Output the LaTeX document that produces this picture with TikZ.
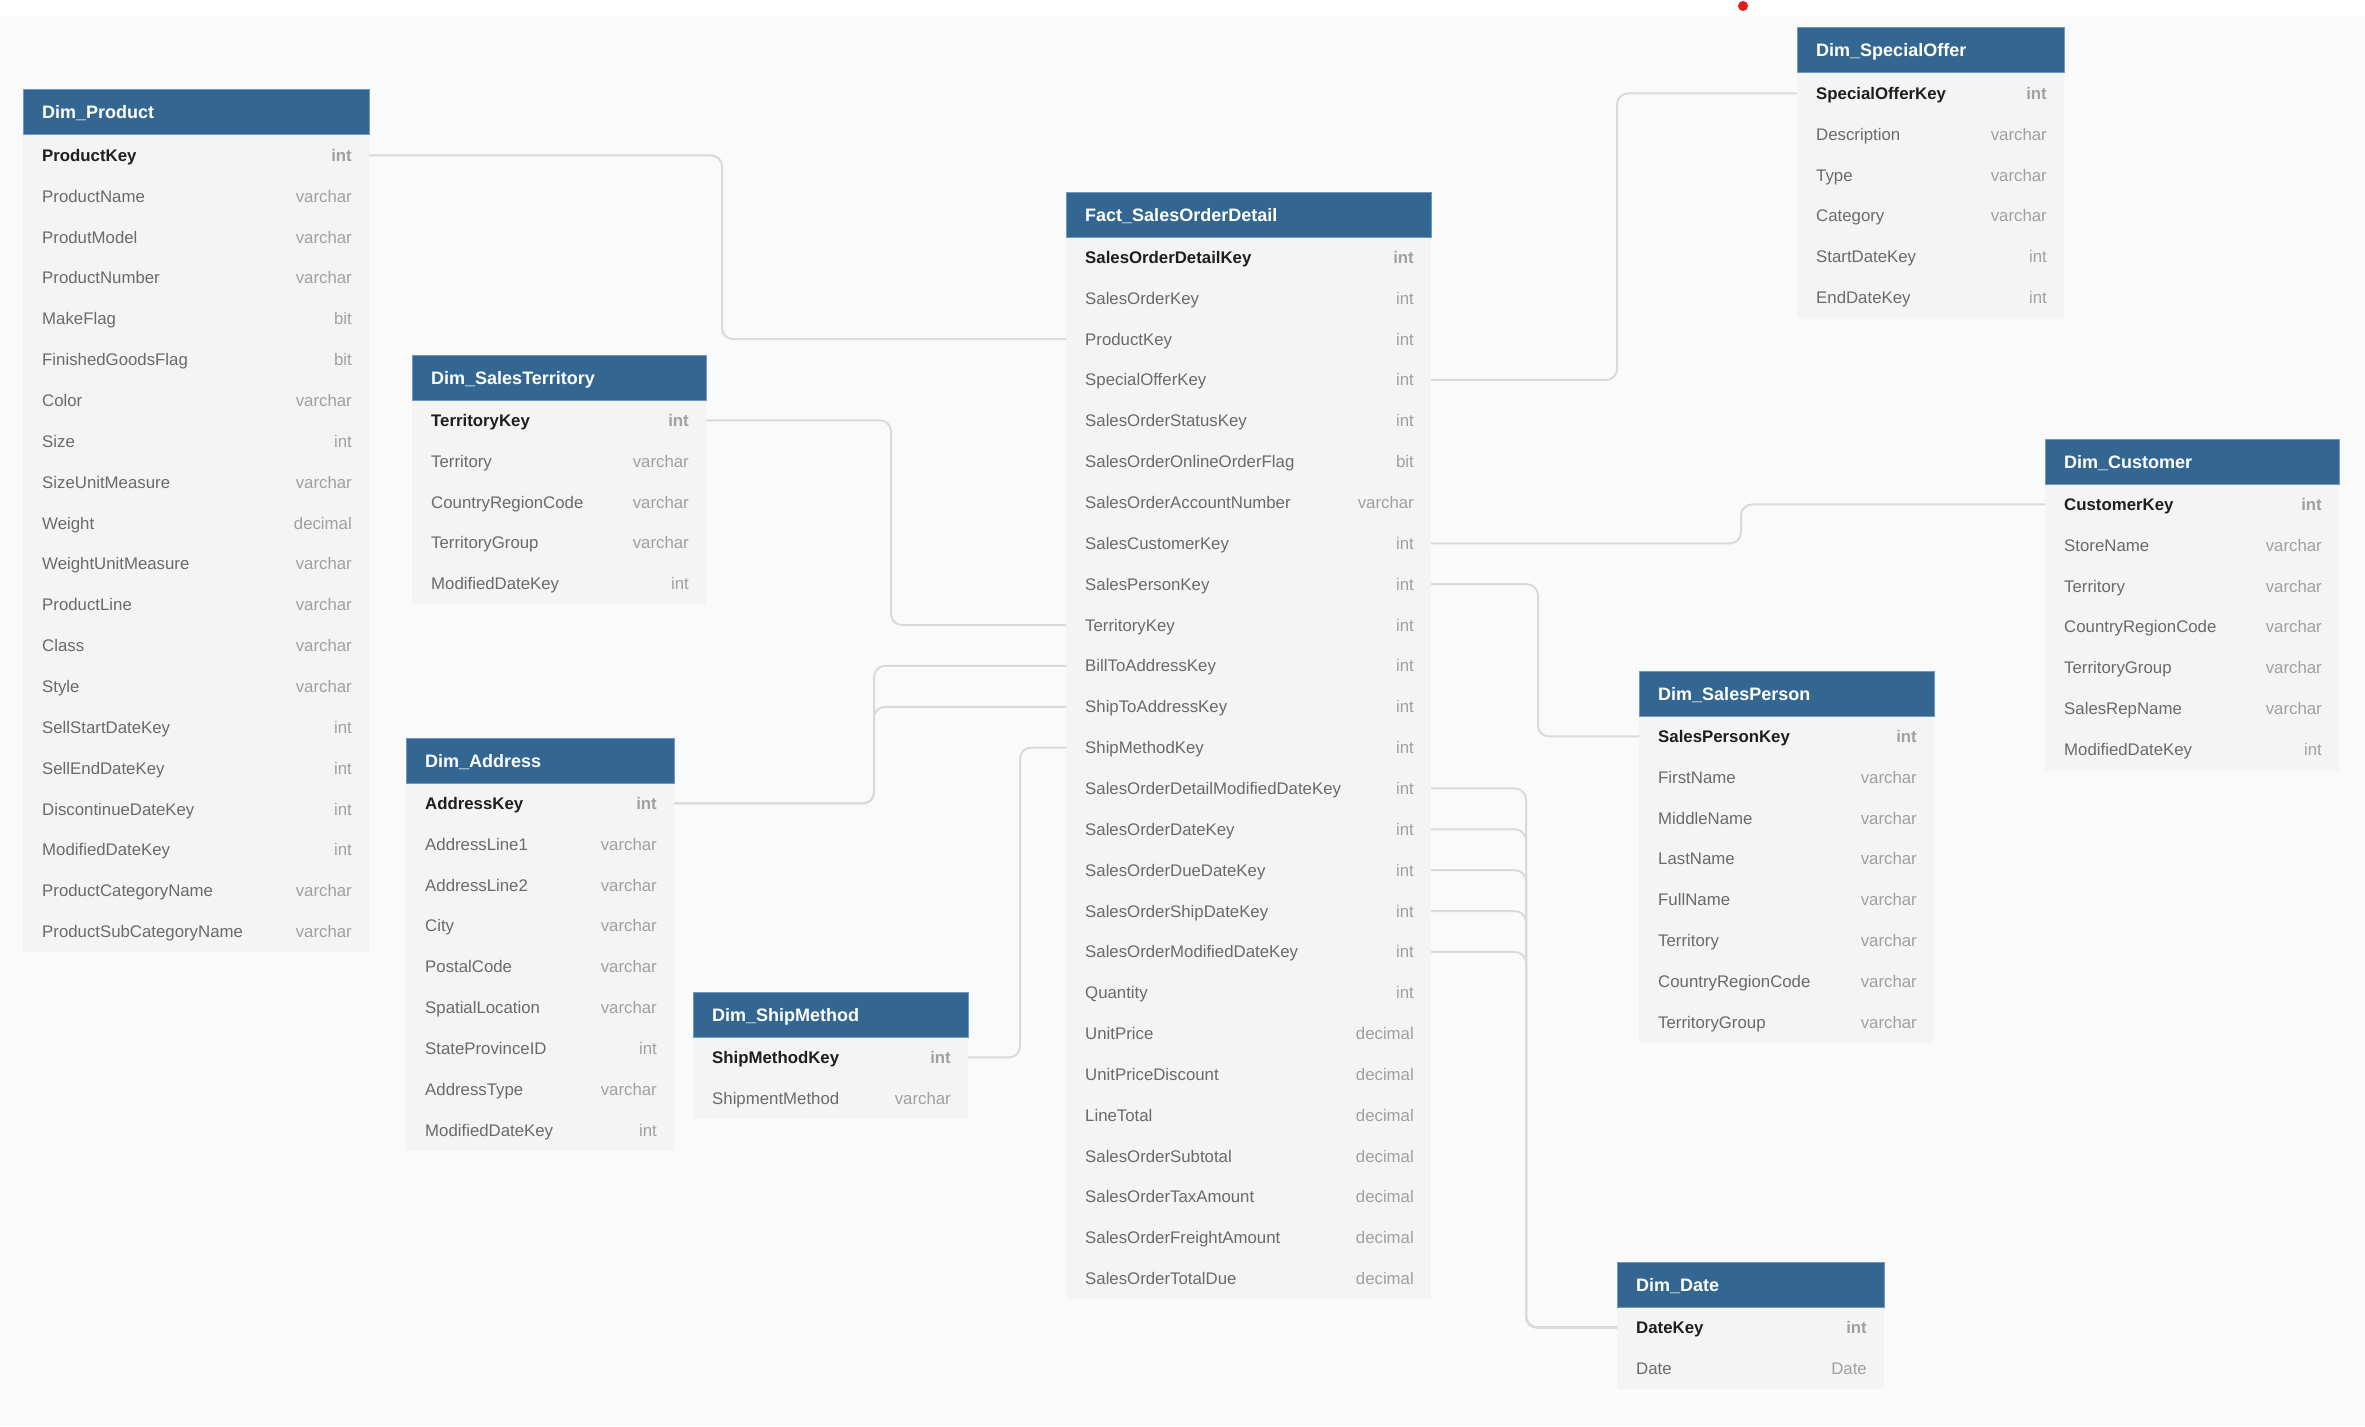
\documentclass[tikz,border=0pt]{standalone}
\usepackage{fontspec}
\setmainfont{Liberation Sans}
\definecolor{hdrblue}{HTML}{336791}
\definecolor{hdrline}{HTML}{6F98BD}
\definecolor{bodycol}{HTML}{F4F4F4}
\definecolor{canvascol}{HTML}{FAFAFA}
\definecolor{keycol}{HTML}{1E1E1E}
\definecolor{namecol}{HTML}{6A6A6A}
\definecolor{typecol}{HTML}{A0A0A0}
\definecolor{conncol}{HTML}{DADADA}
\definecolor{dotred}{HTML}{E31B1B}
\tikzset{
  hdr/.style={fill=hdrblue, draw=hdrline, line width=1pt, inner sep=0pt, outer sep=0pt, minimum height=45pt},
  hdrtext/.style={inner sep=0pt, text=white, font=\fontsize{18}{21}\selectfont\bfseries},
  rowbox/.style={draw=none, inner sep=0pt, outer sep=0pt, minimum height=40.85pt},
  nametext/.style={inner sep=0pt, text=namecol, font=\fontsize{16.8}{20}\selectfont},
  typetext/.style={inner sep=0pt, text=typecol, font=\fontsize{16.8}{20}\selectfont},
  conn/.style={draw=conncol, line width=2pt, rounded corners=11pt},
}
% #1 id, #2 x, #3 y, #4 width, #5 title, #6 rows, #7 number of rows
\newcommand{\erdtable}[7]{%
  \fill[bodycol] (#2,{#3+45}) rectangle ({#2+#4},{#3+45+#7*40.85});
  \foreach \fname/\ftype [count=\ri from 0] in {#6} {
    \node[rowbox, minimum width=#4pt, anchor=north west] (#1-\ri) at ({#2},{#3+45+\ri*40.85}) {};
    \node[nametext, anchor=base west] (#1-\ri-n) at ({#2+19},{#3+45+(\ri+0.5)*40.85+6}) {\ifnum\ri=0 \bfseries\color{keycol}\fi\fname};
    \node[typetext, anchor=base east] (#1-\ri-t) at ({#2+#4-17},{#3+45+(\ri+0.5)*40.85+6}) {\ifnum\ri=0 \bfseries\fi\ftype};
  }
  \node[hdr, minimum width=#4pt, anchor=north west] (#1) at (#2,#3) {};
  \node[hdrtext, anchor=base west] (#1-title) at ({#2+19},{#3+29}) {#5};
}
\begin{document}
\begin{tikzpicture}[x=1pt,y=-1pt]
\useasboundingbox (0,0) rectangle (2365,1426);
\fill[white] (0,0) rectangle (2365,16);
\fill[canvascol] (0,16) rectangle (2365,1426);
\fill[dotred] (1743,6) circle (5);

\erdtable{prod}{23}{90}{346}{Dim\_Product}{ProductKey/int, ProductName/varchar, ProdutModel/varchar, ProductNumber/varchar, MakeFlag/bit, FinishedGoodsFlag/bit, Color/varchar, Size/int, SizeUnitMeasure/varchar, Weight/decimal, WeightUnitMeasure/varchar, ProductLine/varchar, Class/varchar, Style/varchar, SellStartDateKey/int, SellEndDateKey/int, DiscontinueDateKey/int, ModifiedDateKey/int, ProductCategoryName/varchar, ProductSubCategoryName/varchar}{20}

\erdtable{terr}{412}{355}{294}{Dim\_SalesTerritory}{TerritoryKey/int, Territory/varchar, CountryRegionCode/varchar, TerritoryGroup/varchar, ModifiedDateKey/int}{5}

\erdtable{addr}{406}{738}{268}{Dim\_Address}{AddressKey/int, AddressLine1/varchar, AddressLine2/varchar, City/varchar, PostalCode/varchar, SpatialLocation/varchar, StateProvinceID/int, AddressType/varchar, ModifiedDateKey/int}{9}

\erdtable{shipm}{693}{992}{275}{Dim\_ShipMethod}{ShipMethodKey/int, ShipmentMethod/varchar}{2}

\erdtable{fact}{1066}{192}{365}{Fact\_SalesOrderDetail}{SalesOrderDetailKey/int, SalesOrderKey/int, ProductKey/int, SpecialOfferKey/int, SalesOrderStatusKey/int, SalesOrderOnlineOrderFlag/bit, SalesOrderAccountNumber/varchar, SalesCustomerKey/int, SalesPersonKey/int, TerritoryKey/int, BillToAddressKey/int, ShipToAddressKey/int, ShipMethodKey/int, SalesOrderDetailModifiedDateKey/int, SalesOrderDateKey/int, SalesOrderDueDateKey/int, SalesOrderShipDateKey/int, SalesOrderModifiedDateKey/int, Quantity/int, UnitPrice/decimal, UnitPriceDiscount/decimal, LineTotal/decimal, SalesOrderSubtotal/decimal, SalesOrderTaxAmount/decimal, SalesOrderFreightAmount/decimal, SalesOrderTotalDue/decimal}{26}

\erdtable{so}{1797}{28}{267}{Dim\_SpecialOffer}{SpecialOfferKey/int, Description/varchar, Type/varchar, Category/varchar, StartDateKey/int, EndDateKey/int}{6}

\erdtable{cust}{2045}{439}{294}{Dim\_Customer}{CustomerKey/int, StoreName/varchar, Territory/varchar, CountryRegionCode/varchar, TerritoryGroup/varchar, SalesRepName/varchar, ModifiedDateKey/int}{7}

\erdtable{sp}{1639}{671}{295}{Dim\_SalesPerson}{SalesPersonKey/int, FirstName/varchar, MiddleName/varchar, LastName/varchar, FullName/varchar, Territory/varchar, CountryRegionCode/varchar, TerritoryGroup/varchar}{8}

\erdtable{date}{1617}{1262}{267}{Dim\_Date}{DateKey/int, Date/Date}{2}

% channels for connectors
\coordinate (vProd) at (722,0);
\coordinate (vTerr) at (891,0);
\coordinate (vAddr) at (874,0);
\coordinate (vShip) at (1020,0);
\coordinate (vSO) at (1617,0);
\coordinate (vCust) at (1741,0);
\coordinate (vSP) at (1538,0);
\coordinate (vDate) at (1526,0);

\draw[conn] (prod-0.east) -- (prod-0.east -| vProd) -- (fact-2.west -| vProd) -- (fact-2.west);
\draw[conn] (terr-0.east) -- (terr-0.east -| vTerr) -- (fact-9.west -| vTerr) -- (fact-9.west);
\draw[conn] (addr-0.east) -- (addr-0.east -| vAddr) -- (fact-10.west -| vAddr) -- (fact-10.west);
\draw[conn] (addr-0.east) -- (addr-0.east -| vAddr) -- (fact-11.west -| vAddr) -- (fact-11.west);
\draw[conn] (shipm-0.east) -- (shipm-0.east -| vShip) -- (fact-12.west -| vShip) -- (fact-12.west);
\draw[conn] (fact-3.east) -- (fact-3.east -| vSO) -- (so-0.west -| vSO) -- (so-0.west);
\draw[conn] (fact-7.east) -- (fact-7.east -| vCust) -- (cust-0.west -| vCust) -- (cust-0.west);
\draw[conn] (fact-8.east) -- (fact-8.east -| vSP) -- (sp-0.west -| vSP) -- (sp-0.west);
\foreach \k in {13,...,17} {
  \draw[conn] (fact-\k.east) -- (fact-\k.east -| vDate) -- (date-0.west -| vDate) -- (date-0.west);
}
\end{tikzpicture}
\end{document}
